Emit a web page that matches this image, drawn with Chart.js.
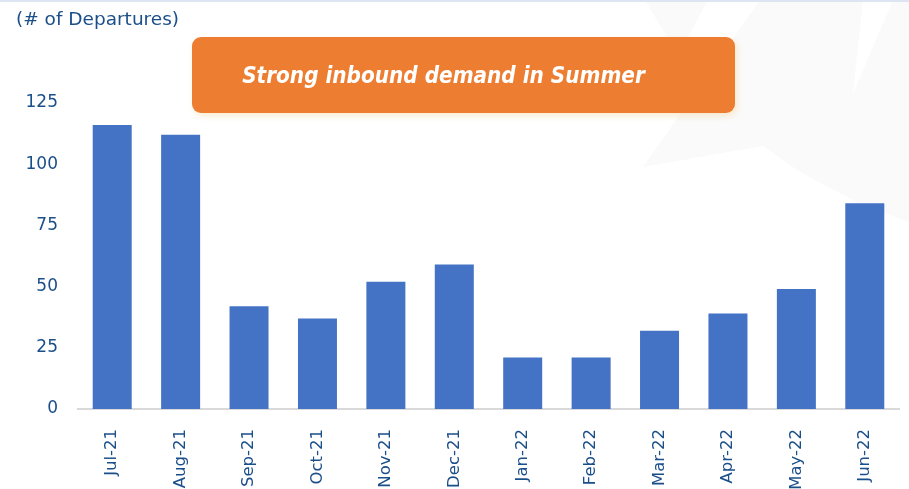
<!doctype html>
<html lang="en">
<head>
    <meta charset="UTF-8">
    <title>Departures by Month</title>
    <script src="https://cdn.jsdelivr.net/npm/chart.js"></script>
    <style>
        body {
            margin: 0;
            background-color: #fff;
            font-family: "DejaVu Sans", sans-serif;
        }
        .wrap {
            position: relative;
            width: 909px;
            height: 489px;
            overflow: hidden;
        }
        .topline {
            position: absolute;
            left: 0;
            top: 0;
            width: 909px;
            height: 2px;
            background: #dde4f2;
        }
        .bg {
            position: absolute;
            left: 0;
            top: 0;
        }
        .chart-container {
            position: absolute;
            left: 0;
            top: 0;
            width: 909px;
            height: 489px;
        }
        .ylabel {
            position: absolute;
            left: 16px;
            top: 8px;
            font-size: 18.5px;
            color: #1b4f8a;
        }
        .callout {
            position: absolute;
            left: 192px;
            top: 37px;
            width: 503px;
            padding-right: 40px;
            height: 76px;
            background: #ed7d31;
            border-radius: 9px;
            box-shadow: 2px 3px 6px rgba(240, 200, 120, 0.35);
            color: #fff;
            font-family: "DejaVu Sans Condensed", "DejaVu Sans", sans-serif;
            font-style: italic;
            font-weight: bold;
            font-size: 22.3px;
            line-height: 76px;
            text-align: center;
        }
    </style>
</head>
<body>
    <div class="wrap">
        <svg class="bg" width="909" height="489">
            <polygon fill="#fafafa" points="643,167 760,0 863,0 853,93 893,0 909,0 909,222 860,204 800,172 763,146"/>
            <polygon fill="#fafafa" points="645,0 708,0 678,55"/>
        </svg>
        <div class="topline"></div>
        <div class="chart-container">
            <canvas id="departuresChart"></canvas>
        </div>
        <div class="ylabel">(# of Departures)</div>
        <div class="callout">Strong inbound demand in Summer</div>
    </div>

    <script>
        const months = ['Jul-21', 'Aug-21', 'Sep-21', 'Oct-21', 'Nov-21', 'Dec-21',
                        'Jan-22', 'Feb-22', 'Mar-22', 'Apr-22', 'May-22', 'Jun-22'];
        const departures = [116, 112, 42, 37, 52, 59, 21, 21, 32, 39, 49, 84];
        const yTicks = [0, 25, 50, 75, 100, 125];

        const textColor = '#1b4f8a';
        const yFont = { family: '"DejaVu Sans", sans-serif', size: 17 };
        const xFont = { family: '"DejaVu Sans", sans-serif', size: 16.5 };

        const ctx = document.getElementById('departuresChart').getContext('2d');
        const chart = new Chart(ctx, {
            type: 'bar',
            data: {
                labels: months,
                datasets: [{
                    label: 'Departures',
                    data: departures,
                    backgroundColor: '#4472c4',
                    categoryPercentage: 1,
                    barPercentage: 0.57
                }]
            },
            options: {
                responsive: true,
                maintainAspectRatio: false,
                animation: false,
                layout: {
                    padding: { top: 103, right: 10, left: 0, bottom: 0 }
                },
                scales: {
                    x: {
                        grid: { display: false },
                        border: { color: '#d9d9d9', width: 2 },
                        ticks: {
                            color: textColor,
                            font: xFont,
                            minRotation: 90,
                            maxRotation: 90,
                            padding: 12
                        },
                        afterFit: function (scale) { scale.height = 80; }
                    },
                    y: {
                        min: 0,
                        max: 125,
                        grid: { display: false },
                        border: { display: false },
                        afterBuildTicks: function (scale) {
                            scale.ticks = yTicks.map(v => ({ value: v }));
                        },
                        ticks: {
                            color: textColor,
                            font: yFont,
                            padding: 12
                        },
                        afterFit: function (scale) { scale.width = 78; }
                    }
                },
                plugins: {
                    legend: { display: false },
                    tooltip: { enabled: false }
                }
            }
        });
    </script>
</body>
</html>
